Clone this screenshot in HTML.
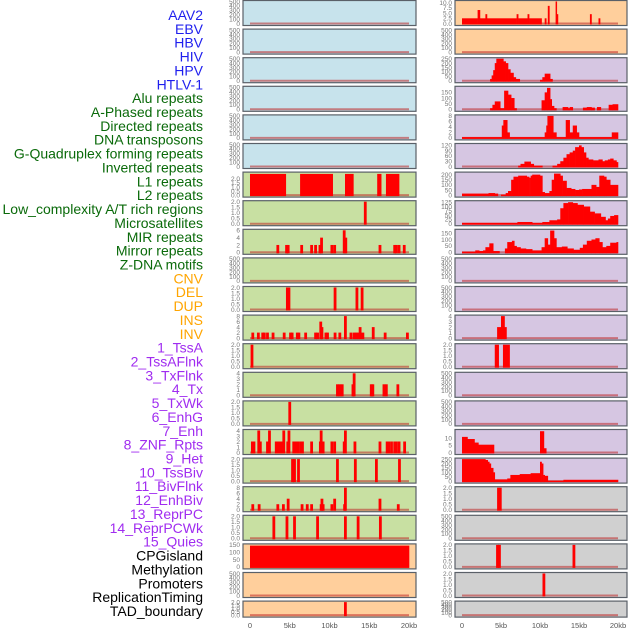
<!DOCTYPE html>
<html><head><meta charset="utf-8"><style>
html,body{margin:0;padding:0;background:#fff;}
svg{display:block;font-family:"Liberation Sans",sans-serif;}
</style></head><body>
<svg id="chart" width="630" height="630" viewBox="0 0 630 630" xmlns="http://www.w3.org/2000/svg"></svg>
<script>
const labels = ["AAV2","EBV","HBV","HIV","HPV","HTLV-1","Alu repeats","A-Phased repeats","Directed repeats","DNA transposons","G-Quadruplex forming repeats","Inverted repeats","L1 repeats","L2 repeats","Low_complexity A/T rich regions","Microsatellites","MIR repeats","Mirror repeats","Z-DNA motifs","CNV","DEL","DUP","INS","INV","1_TssA","2_TssAFlnk","3_TxFlnk","4_Tx","5_TxWk","6_EnhG","7_Enh","8_ZNF_Rpts","9_Het","10_TssBiv","11_BivFlnk","12_EnhBiv","13_ReprPC","14_ReprPCWk","15_Quies","CPGisland","Methylation","Promoters","ReplicationTiming","TAD_boundary"];
const labelGroups = [6,13,5,15,5];
const groupColors = ["#1f1fee","#0a6a0a","#ffa500","#a02cf0","#000000"];
const xTicks = [0,5,10,15,20];
const xTickLabels = ["0","5kb","10kb","15kb","20kb"];

const ticks2 = [0,0.5,1,1.5,2];
const ticks500 = [0,100,200,300,400,500];

const r0Starts = [0,2.0,2.3,3.0,3.2,7.0,7.2,8.4,8.6,10.2,10.6,10.8,11.0,11.2,12.0,12.15,12.3,16.4,16.6,17.5,17.7];
const r0Vals   = [2.5,6.5,2.5,4.5,2.5,4.5,2.5,4.5,2.5,0,2.5,0,8.5,0,11,4.5,0,4.5,0,2.5,0];
const r2Starts = [0,3.6,3.8,4.0,4.2,4.4,5.3,5.6,5.9,6.2,6.6,6.9,7.4,10.0,10.3,10.6,11.3,11.6];
const r2Vals   = [0,20,60,120,200,250,220,200,130,90,40,20,0,10,40,80,20,0];
const r3Starts = [0,3.6,3.9,4.2,4.9,5.4,5.9,6.3,6.7,7.0,10.2,10.6,10.9,11.3,11.5,11.8,12.1,12.9,13.6,13.8,14.2,15.5,16.0,16.6,17.0,17.3,17.8,18.8,19.3];
const r3Vals   = [0,10,40,70,10,165,130,100,10,0,80,150,190,90,30,10,0,20,10,20,0,15,20,15,0,20,0,40,45];
const r4Starts = [0,5.1,5.3,5.8,6.1,10.6,10.8,10.95,11.7,12.1,13.3,13.8,14.2,14.7,15.0,19.2];
const r4Vals   = [0.3,4.5,6.5,2,0.3,2,4.5,8,2,0.3,6.5,2,4.5,2,0.3,2];
const r5Starts = [0,7.2,7.5,8.0,8.8,9.2,10.3,11.6,12.2,12.6,13.0,13.4,13.8,14.2,14.5,15.0,15.3,15.6,15.9,16.2,16.8,17.5,18.0,18.3,18.7,19.0,19.4,19.8];
const r5Vals   = [0,5,15,28,15,5,0,5,15,30,50,70,80,90,110,120,110,80,50,40,35,40,30,35,40,45,35,25];
const r6Starts = [0,3.4,4.2,4.6,5.0,5.6,5.9,6.3,6.6,7.2,8.3,8.6,8.8,9.0,10.0,10.3,10.6,11.2,11.5,11.8,12.6,12.9,13.4,14.0,14.5,15.0,15.4,16.0,16.6,17.2,17.6,18.2,18.5,19.0];
const r6Vals   = [15,20,15,0,5,20,40,150,180,190,180,170,190,200,190,30,20,40,150,210,190,140,70,60,50,55,60,60,100,80,190,180,150,100];
const r7Starts = [0,7.1,9.0,10.3,11.2,12.2,12.6,13.0,13.6,14.2,14.8,15.6,16.4,17.0,17.8,18.4,18.7,19.0,19.5];
const r7Vals   = [5,10,5,10,20,25,90,120,125,120,110,100,70,60,40,20,30,45,50];
const r8Starts = [0,1.7,2.2,2.7,3.0,3.5,4.0,4.8,5.5,5.8,6.4,6.7,7.0,7.5,8.2,9.0,10.2,10.6,11.0,11.3,11.8,12.1,12.8,13.5,14.3,15.1,15.5,16.0,16.6,17.1,17.6,18.0,18.5,19.0,19.8];
const r8Vals   = [5,15,10,15,40,70,10,0,30,80,90,50,40,30,25,15,40,110,60,170,110,40,45,30,20,35,60,90,100,110,80,40,50,75,80];
const r11Starts = [0,4.5,5.0,5.45,5.7];
const r11Vals   = [0,2,4,2,0];
const r12Starts = [0,4.2,4.7,5.25,6.1];
const r12Vals   = [0,2,0,2,0];
const r15Starts = [0,0.7,1.6,2.1,4.1,10.0,10.5,10.8];
const r15Vals   = [11,9.5,7,5.5,0,15,3,0];
const r16Starts = [0,3.0,3.3,3.5,3.7,4.0,4.2,5.5,5.8,6.2,7.4,8.8,10.0,10.2,10.4,10.6,11.0,13.0];
const r16Vals   = [250,240,220,200,150,100,20,20,30,70,80,90,220,200,70,60,5,15];
const r17Starts = [0,4.5,5.05];
const r17Vals   = [0,2,0];
const l6Starts = [0,4.5,6.3,10.4,11.95,13.0,16.0,16.5,17.1,18.75];
const l6Vals   = [2.6,0,2.6,0,2.6,0,2.6,0,2.6,0];
const l19Starts = [0,20];
const l19Vals   = [145,145];

const l7Pos = [14.5]; const l7Val = [2.7];
const l8Pos = [3.5,4.6,4.8,6.5,7.75,8.25,8.8,9.0,10.3,10.65,11.85,12.05,16.35,18.2,18.4,18.75,19.4];
const l8Val = [2,2,2,2,2,2,2,4,2,2,6,4,2,2,2,2,2];
const l10Pos = [4.7,4.9,10.7,13.45,14.1]; const l10Val = [2,2,2,2,2];
const l11Pos = [0.35,1.05,1.6,1.8,2.2,2.9,4.3,5.1,5.3,5.95,6.15,7.0,8.25,8.5,8.9,9.05,9.55,9.75,10.7,11.3,12.0,12.7,13.1,13.35,13.6,13.85,14.2,15.5,17.0,19.8];
const l11Val = [2,2,2,2,2,2,2,2,2,2,2,2,2,2,6,4,2,2,2,2,8,2,2,2,2,4,2,4,2,2];
const l12Pos = [0.25]; const l12Val = [2];
const l13Pos = [11.0,11.3,11.6,12.95,13.1,15.25,15.45,16.85,17.15,18.6];
const l13Val = [2,2,2,2,4,2,2,2,2,2];
const l14Pos = [5.0]; const l14Val = [2];
const l15Pos = [0.3,0.5,1.1,1.3,2.2,2.45,3.3,3.55,3.8,4.05,4.25,4.75,4.9,5.5,5.75,6.0,6.35,6.6,7.75,8.85,8.95,9.2,10.3,10.65,11.85,12.0,13.2,16.35,17.25,17.45,17.8,18.2,18.4,18.75,19.45];
const l15Val = [2,2,4,2,2,4,2,2,2,2,4,2,4,2,2,2,2,2,2,2,4,2,2,2,2,4,2,2,2,2,2,2,2,2,2];
const l16Pos = [5.35,5.6,6.1,11.0,13.25,15.9,18.8]; const l16Val = [2,2,2,2,2,2,2];
const l17Pos = [0.35,1.15,3.5,4.2,4.8,6.55,7.2,7.75,8.95,9.05,9.2,10.3,10.65,11.9,12.0,16.35,18.65];
const l17Val = [2,2,2,2,4,2,2,2,2,4,2,2,4,2,8,4,2];
const l18Pos = [3.0,4.65,5.6,8.5,12.0,13.6,16.4]; const l18Val = [2,2,2,2,2,2,2];
const l21Pos = [12.0]; const l21Val = [2];
const r19Pos = [4.55,4.8,14.35]; const r19Val = [2,2,2];
const r20Pos = [10.5]; const r20Val = [2];

const BLUE="#c7e3ec", GREEN="#c8e0a2", ORANGE="#ffcf9c", PURPLE="#d6c6e2", GRAY="#d0d0d0";
const leftCfg = [
 [BLUE,500,ticks500],[BLUE,500,ticks500],[BLUE,500,ticks500],[BLUE,500,ticks500],[BLUE,500,ticks500],[BLUE,500,ticks500],
 [GREEN,2,ticks2,{s:l6Starts,v:l6Vals},2.7],[GREEN,2,ticks2,{p:l7Pos,v:l7Val}],[GREEN,6,[0,2,4,6],{p:l8Pos,v:l8Val}],
 [GREEN,500,ticks500],[GREEN,2,ticks2,{p:l10Pos,v:l10Val}],[GREEN,8,[0,2,4,6,8],{p:l11Pos,v:l11Val}],
 [GREEN,2,ticks2,{p:l12Pos,v:l12Val}],[GREEN,4,[0,1,2,3,4],{p:l13Pos,v:l13Val}],[GREEN,2,ticks2,{p:l14Pos,v:l14Val}],
 [GREEN,4,[0,1,2,3,4],{p:l15Pos,v:l15Val}],[GREEN,2,ticks2,{p:l16Pos,v:l16Val}],[GREEN,8,[0,2,4,6,8],{p:l17Pos,v:l17Val}],
 [GREEN,2,ticks2,{p:l18Pos,v:l18Val}],[ORANGE,150,[0,50,100,150],{s:l19Starts,v:l19Vals}],[ORANGE,500,ticks500],
 [ORANGE,2,ticks2,{p:l21Pos,v:l21Val}]
];
const rightCfg = [
 [ORANGE,10,[0,2.5,5,7.5,10],{s:r0Starts,v:r0Vals},10.6],[ORANGE,500,ticks500],[PURPLE,250,[0,50,100,150,200,250],{s:r2Starts,v:r2Vals}],
 [PURPLE,150,[0,50,100,150],{s:r3Starts,v:r3Vals},195],[PURPLE,8,[0,2,4,6,8],{s:r4Starts,v:r4Vals}],[PURPLE,120,[0,30,60,90,120],{s:r5Starts,v:r5Vals},125],
 [PURPLE,200,[0,50,100,150,200],{s:r6Starts,v:r6Vals},215],[PURPLE,125,[0,25,50,75,100,125],{s:r7Starts,v:r7Vals},128],[PURPLE,150,[0,50,100,150],{s:r8Starts,v:r8Vals},172],
 [PURPLE,500,ticks500],[PURPLE,500,ticks500],[PURPLE,4,[0,1,2,3,4],{s:r11Starts,v:r11Vals}],
 [PURPLE,2,ticks2,{s:r12Starts,v:r12Vals}],[PURPLE,500,ticks500],[PURPLE,500,ticks500],
 [PURPLE,10,[0,5,10],{s:r15Starts,v:r15Vals},15.5],[PURPLE,250,[0,50,100,150,200,250],{s:r16Starts,v:r16Vals}],[GRAY,2,ticks2,{s:r17Starts,v:r17Vals}],
 [GRAY,500,ticks500],[GRAY,2,ticks2,{p:r19Pos,v:r19Val}],[GRAY,2,ticks2,{p:r20Pos,v:r20Val}],[GRAY,500,ticks500]
];

const NS="http://www.w3.org/2000/svg";
const svg=document.getElementById('chart');
function mk(tag,attrs,parent){const e=document.createElementNS(NS,tag);for(const k in attrs)e.setAttribute(k,attrs[k]);(parent||svg).appendChild(e);return e;}

let gi=0,cnt=0;
labels.forEach((t,i)=>{
  while(cnt>=labelGroups[gi]){cnt-=labelGroups[gi];gi++;}
  const el=mk('text',{x:203,y:20+i*13.86,'text-anchor':'end','font-size':14,fill:groupColors[gi]});
  el.textContent=t;
  
  
  cnt++;
});

function drawPanel(cfg,row,col){
  const px = col===0?243:455, pw = col===0?173:172;
  const x0 = col===0?250:462, x1 = col===0?409:618;
  const top = row*28.6, h = row===21?16:25;
  const xs = kb=>x0+(x1-x0)*kb/20;
  const [bg,tmax,ticks,data,amax0] = cfg;
  const amax = amax0||tmax;
  const yb = top+h-1.5, yt = top+1.5;
  const ys = v=>yb-(yb-yt)*Math.min(v,amax)/amax;
  const dec = ticks.some(v=>v%1!==0);
  const g=mk('g',{});
  
  
  mk('rect',{x:px,y:top+0.5,width:pw,height:h,fill:bg,stroke:'#5a6068','stroke-width':1.2},g);
  ticks.forEach(tv=>{
    const t=mk('text',{x:px-3,y:ys(tv)+2.3,'text-anchor':'end','font-size':6.5,fill:'#777'},g);
    t.textContent = dec ? tv.toFixed(1) : String(tv);
    
    
  });
  mk('line',{x1:xs(0),x2:xs(20),y1:yb,y2:yb,stroke:'rgba(190,40,40,0.55)','stroke-width':2},g);
  if(data){
    if(data.s){
      for(let i=0;i<data.s.length;i++){
        const a=data.s[i], b=i+1<data.s.length?data.s[i+1]:20, v=data.v[i];
        if(v<=0||b<=a) continue;
        const r=mk('rect',{x:xs(a),y:ys(v),width:xs(b)-xs(a)+0.3,height:yb-ys(v)+1,fill:'#ff0000'},g);
        
        
      }
    } else {
      data.p.forEach((p,i)=>{
        const v=data.v[i];
        const r=mk('rect',{x:xs(p)-1.4,y:ys(v),width:2.8,height:yb-ys(v)+1,fill:'#ff0000'},g);
        
        
      });
    }
  }
}
leftCfg.forEach((c,i)=>drawPanel(c,i,0));
rightCfg.forEach((c,i)=>drawPanel(c,i,1));

[[250,409],[462,618]].forEach(([a,b],ci)=>{
  xTicks.forEach((t,i)=>{
    const el=mk('text',{x:a+(b-a)*t/20,y:628,'text-anchor':'middle','font-size':7.5,fill:'#555'});
    el.textContent=xTickLabels[i];
    
    
  });
});
</script>
</body></html>
